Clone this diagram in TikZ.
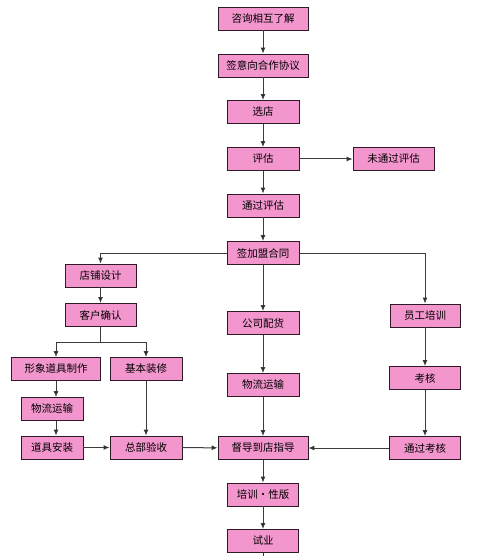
\documentclass[tikz,border=0pt]{standalone}
\usepackage{fontspec}
\newfontfamily\cjk{Noto Sans CJK SC}
\usepackage{tikz}
\usetikzlibrary{arrows.meta, positioning, calc}
\definecolor{spink}{HTML}{F396CE}
\definecolor{sedge}{HTML}{2E1A26}
\definecolor{sline}{HTML}{3C3C3C}
\tikzset{
  >=Latex,
  font=\cjk\fontsize{10.5}{12}\selectfont,
  box/.style={
    draw=sedge, fill=spink, line width=0.8pt,
    minimum width=#1, minimum height=23pt, inner sep=1pt, align=center
  },
  box/.default=72pt,
  arr/.style={-{Latex[length=6pt,width=5pt,fill=black]}, line width=1pt, draw=sline},
  plain/.style={line width=1pt, draw=sline}
}
\begin{document}
\begin{tikzpicture}[x=1pt,y=-1pt]
  \useasboundingbox (0,0) rectangle (476,556);
  % main column
  \node[box=90pt] (ask) at (263,18.5) {咨询相互了解};
  \node[box=90pt] (intent) at (263,65.5) {签意向合作协议};
  \node[box] (pick) at (263,112) {选店};
  \node[box] (eval) at (263,159) {评估};
  \node[box=81pt] (fail) at (393.5,159) {未通过评估};
  \node[box] (pass) at (263,205.5) {通过评估};
  \node[box] (contract) at (263,253) {签加盟合同};
  % three branches
  \node[box=71pt] (design) at (100.5,275.5) {店铺设计};
  \node[box=71pt] (confirm) at (100.5,315) {客户确认};
  \node[box] (stock) at (263,323) {公司配货};
  \node[box=70pt] (staff) at (425,315.5) {员工培训};
  \node[box=89pt] (image) at (56,369) {形象道具制作};
  \node[box] (decor) at (146,369) {基本装修};
  \node[box=62pt] (ship) at (52,409) {物流运输};
  \node[box] (shipmid) at (263,385) {物流运输};
  \node[box=71pt] (exam) at (425,378) {考核};
  \node[box=62pt] (install) at (52,447.5) {道具安装};
  \node[box] (accept) at (146,447.5) {总部验收};
  \node[box=90pt] (guide) at (263,448) {督导到店指导};
  \node[box=71pt] (passexam) at (425,448) {通过考核};
  \node[box=71pt] (train) at (263,494.5) {培训·性版};
  \node[box=71pt] (trial) at (263,541) {试业};
  \coordinate (split) at (100.5,342);
  \coordinate (tail) at (263,556);

  \draw[arr] (ask) -- (intent);
  \draw[arr] (intent) -- (pick);
  \draw[arr] (pick) -- (eval);
  \draw[arr] (eval) -- (fail);
  \draw[arr] (eval) -- (pass);
  \draw[arr] (pass) -- (contract);
  \draw[arr] (contract.west) -| (design.north);
  \draw[arr] (contract.east) -| (staff.north);
  \draw[arr] (contract) -- (stock);
  \draw[arr] (design) -- (confirm);
  \draw[plain] (confirm) -- (split);
  \draw[arr] (split) -| (image.north);
  \draw[arr] (split) -| (decor.north);
  \draw[arr] (image.south) -- (image.south |- ship.north);
  \draw[arr] (image.south |- ship.south) -- (image.south |- install.north);
  \draw[arr] (install) -- (accept);
  \draw[arr] (decor) -- (accept);
  \draw[arr] (accept) -- (guide);
  \draw[arr] (stock) -- (shipmid);
  \draw[arr] (shipmid) -- (guide);
  \draw[arr] (staff) -- (exam);
  \draw[arr] (exam) -- (passexam);
  \draw[arr] (passexam) -- (guide);
  \draw[arr] (guide) -- (train);
  \draw[arr] (train) -- (trial);
  \draw[plain] (trial) -- (tail);
\end{tikzpicture}
\end{document}
